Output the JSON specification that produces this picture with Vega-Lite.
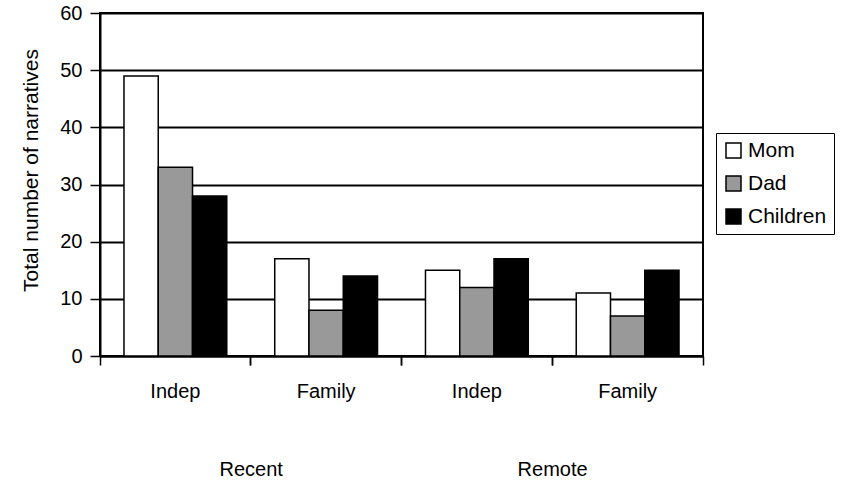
{
  "$schema": "https://vega.github.io/schema/vega-lite/v6.json",
  "width": 603,
  "height": 343,
  "autosize": {"type": "none"},
  "padding": {"left": 100, "top": 13, "right": 140, "bottom": 125},
  "background": "white",
  "config": {
    "font": "Liberation Sans",
    "view": {"stroke": "black", "strokeWidth": 2},
    "axis": {"labelColor": "black", "titleColor": "black", "domainColor": "black", "tickColor": "black"}
  },
  "data": {
    "values": [
      {"group": "Recent Indep", "member": "Mom", "narratives": 49},
      {"group": "Recent Indep", "member": "Dad", "narratives": 33},
      {"group": "Recent Indep", "member": "Children", "narratives": 28},
      {"group": "Recent Family", "member": "Mom", "narratives": 17},
      {"group": "Recent Family", "member": "Dad", "narratives": 8},
      {"group": "Recent Family", "member": "Children", "narratives": 14},
      {"group": "Remote Indep", "member": "Mom", "narratives": 15},
      {"group": "Remote Indep", "member": "Dad", "narratives": 12},
      {"group": "Remote Indep", "member": "Children", "narratives": 17},
      {"group": "Remote Family", "member": "Mom", "narratives": 11},
      {"group": "Remote Family", "member": "Dad", "narratives": 7},
      {"group": "Remote Family", "member": "Children", "narratives": 15}
    ]
  },
  "layer": [
    {
      "mark": {"type": "bar", "stroke": "black", "strokeWidth": 1.5},
      "encoding": {
        "x": {
          "field": "group",
          "type": "nominal",
          "sort": ["Recent Indep", "Recent Family", "Remote Indep", "Remote Family"],
          "scale": {"paddingInner": 0, "paddingOuter": 0},
          "axis": {
            "title": null,
            "ticks": false,
            "domain": true,
            "domainWidth": 2,
            "labelAngle": 0,
            "labelFontSize": 20,
            "labelPadding": 25,
            "labelExpr": "split(datum.label, ' ')[1]"
          }
        },
        "xOffset": {
          "field": "member",
          "type": "nominal",
          "sort": ["Mom", "Dad", "Children"],
          "scale": {"paddingInner": 0, "paddingOuter": 0.7}
        },
        "y": {
          "field": "narratives",
          "type": "quantitative",
          "scale": {"domain": [0, 60], "nice": false},
          "axis": {
            "values": [0, 10, 20, 30, 40, 50, 60],
            "grid": true,
            "gridColor": "black",
            "gridWidth": 1.8,
            "gridOpacity": 1,
            "tickSize": 10,
            "tickWidth": 1.5,
            "domainWidth": 2,
            "labelFontSize": 20,
            "labelPadding": 8,
            "title": "Total number of narratives",
            "titleFontSize": 21,
            "titleFontWeight": "normal",
            "titlePadding": 18,
            "titleY": 157
          }
        },
        "color": {
          "field": "member",
          "type": "nominal",
          "sort": ["Mom", "Dad", "Children"],
          "scale": {"domain": ["Mom", "Dad", "Children"], "range": ["#ffffff", "#999999", "#000000"]},
          "legend": {
            "title": null,
            "orient": "none",
            "legendX": 616,
            "legendY": 120,
            "symbolType": "square",
            "symbolSize": 225,
            "symbolStrokeColor": "black",
            "symbolStrokeWidth": 1.5,
            "labelFontSize": 21,
            "labelColor": "black",
            "labelOffset": 4,
            "strokeColor": "black",
            "padding": 7,
            "rowPadding": 11
          }
        }
      }
    },
    {
      "mark": {"type": "point", "opacity": 0},
      "encoding": {
        "x": {
          "field": "group",
          "type": "nominal",
          "sort": ["Recent Indep", "Recent Family", "Remote Indep", "Remote Family"],
          "axis": {
            "title": null,
            "orient": "bottom",
            "domain": false,
            "bandPosition": 0,
            "ticks": true,
            "tickSize": 9,
            "tickWidth": 1.5,
            "labelAngle": 0,
            "labelFontSize": 20,
            "labelPadding": 94,
            "labelOffset": -75,
            "labelExpr": "datum.value == 'Recent Family' ? 'Recent' : datum.value == 'Remote Family' ? 'Remote' : ''"
          }
        }
      }
    },
    {
      "mark": {"type": "point", "opacity": 0},
      "encoding": {
        "x": {
          "field": "group",
          "type": "nominal",
          "sort": ["Recent Indep", "Recent Family", "Remote Indep", "Remote Family"],
          "axis": {
            "title": null,
            "orient": "bottom",
            "domain": false,
            "bandPosition": 1,
            "ticks": true,
            "tickSize": 9,
            "tickWidth": 1.5,
            "labels": false
          }
        }
      }
    }
  ],
  "resolve": {"axis": {"x": "independent"}}
}
